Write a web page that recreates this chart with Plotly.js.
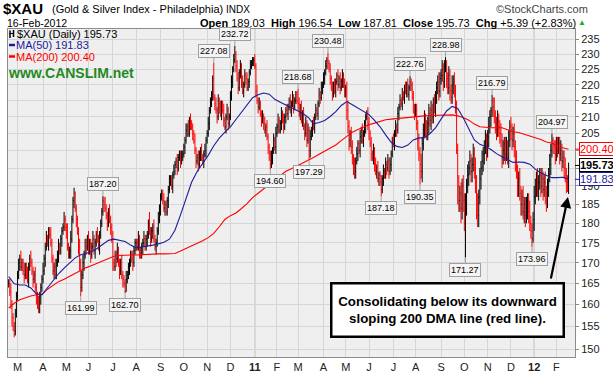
<!DOCTYPE html>
<html><head><meta charset="utf-8">
<script src="https://cdn.plot.ly/plotly-3.0.1.min.js"></script>
<style>html,body{margin:0;padding:0;background:#fff}#chart{width:613px;height:374px}</style>
</head><body><div id="chart"></div>
<script>
// ---- calendar ----
const startDate = '2010-02-17';
const holidays = ['2010-04-02','2010-05-31','2010-07-05','2010-09-06','2010-11-25','2010-12-24',
  '2011-01-17','2011-02-21','2011-04-22','2011-05-30','2011-07-04','2011-09-05','2011-11-24','2011-12-26',
  '2012-01-02','2012-01-16'];
const monthLetters = ['J','F','M','A','M','J','J','A','S','O','N','D'];

// ---- daily closes ----
const closes = [
165,163,160,157,155,154,158,162,167,170,
171,169,170,168,167,169,167,166,169,171,170,168,166,167,164,162,160,159,162,164,166,168,
171,174,176,175,178,177,175,171,168,169,167,170,172,174,173,176,178,179,181,179,
178,174,172,173,176,181,186,188,184,181,178,174,170,164,167,170,172,175,174,176,
173,175,172,174,176,173,175,177,176,174,177,180,183,186,185,184,182,180,183,181,179,176,
170,169,172,171,173,170,168,170,167,166,165,163,166,167,169,170,172,171,170,173,175,
175,174,176,173,172,174,175,176,174,176,177,180,178,176,178,179,176,174,175,178,181,184,
187,188,186,184,185,183,186,189,191,192,190,193,194,196,197,195,198,199,197,198,199,
201,203,206,207,205,209,208,207,205,203,200,197,198,196,199,200,198,197,199,200,203,
205,208,212,214,217,222,216,214,212,210,215,213,211,214,212,209,207,210,212,208,210,
216,221,225,228,230,226,222,219,224,226,221,218,220,223,222,219,221,224,226,227,228,228,
226,218,215,213,214,211,209,210,208,206,207,204,201,199,196,198,200,203,201,205,
207,209,206,208,211,209,207,210,212,211,213,215,212,214,216,213,215,217,215,
214,211,213,209,211,207,205,208,203,206,200,204,206,208,207,210,212,211,214,217,216,219,220,
222,224,226,228,227,225,222,219,217,220,218,221,223,220,222,219,221,223,220,218,
219,212,207,203,205,201,198,196,194,197,199,202,200,204,206,203,205,207,210,211,208,
205,202,199,198,200,196,194,195,192,193,191,189,192,194,193,196,195,197,194,196,199,203,
202,205,207,206,211,213,215,214,217,216,219,218,220,217,219,221,220,216,213,211,
212,208,203,199,196,194,202,206,209,207,205,208,211,209,212,210,214,213,216,219,221,218,222,
223,225,221,226,227,222,219,223,218,216,220,221,218,214,200,190,186,188,184,190,186,
180,185,190,193,195,197,194,196,199,195,191,185,182,187,192,195,197,199,201,203,200,
204,207,210,212,215,213,210,208,206,209,207,205,203,198,200,202,199,201,198,203,207,
206,203,205,201,197,194,190,192,188,185,187,183,185,182,184,186,183,180,178,176,181,
187,190,192,189,191,193,190,192,189,191,188,186,190,193,196,200,203,202,201,199,
203,201,202,199,200,197,198,195,193,191,190.34,195.73
];
// wick above max(open,close) and below min(open,close), in index points
const hiExt = [
1,1,2,1,1,1,1,1,1,1, 1,2,1,1,2,1,1,2,1,1, 2,1,1,1,2,1,1,2,1,1, 1,2,1,1,2,1,1,1,2,1,
1,1,2,1,1,2,1,1,1,1, 2,1,1,2,1,1,2,1,1,1.5, 0.5,1,1,1,2,1,1,2,1,1, 1,1,2,1,1,1,2,1,1,1,
2,1,1,1,1,1,1,2,1,1, 1,2,1,1,2,1,1,1,2,1, 1,1,2,1,1,1,2,1,1,1, 1,1,2,1,1,1,1,2,1,1,
1,1,2,1,1,1,1,3,1,1, 1,2,1,1,1,2,1,1,1,1, 2,1,1,1,1,2,1,1,1,2, 1,1,2,1,1,1,2,1,1,1,
2,1,2,1,2,1,1,1,2,1, 1,2,1,1,2,1,1,2,1,1, 2,1,2,1,1,0,1,2,1,2, 1,2,1,1,2,1,1,2,1,1,
2,2,1,2,0,1,2,2,1,2, 1,2,1,2,1,2,1,1,2,1, 1,1,2,1,2,1,2,1,1,2, 1,2,1,2,1,1,1,2,1,2,
1,2,1,2,1,1,2,1,2,1, 1,2,1,1,2,1,2,1,1,1, 1,0,2,1,2,1,2,1,2,1, 2,1,2,1,1,2,1,2,1,1,
2,1,2,1,2,1,2,1,0,1, 2,1,2,1,2,1,1,2,1,2, 1,2,1,2,1,2,3,2,1,2, 2,1,2,1,2,1,1,2,1,2,
1,2,1,1,2,2,1,2,1,2, 1,2,1,2,1,1,2,1,2,1, 2,1,2,1,2,1,1,2,1,2, 1,2,1,2,1,2,1,1,2,1,
2,1,0,1,1,2,1,2,2,1, 2,2,3,2,2,3,2,2,2,3, 2,3,2,2,3,2,2,2,3,2, 2,3,2,2,0,1,2,3,2,2,
3,2,3,2,1,2,3,2,3,2, 3,2,3,2,3,2,3,2,2,3, 2,3,2,3,2,3,2,3,2,2, 3,2,2,3,2,1,0,1,3,2,
2,3,2,2,3,2,3,2,2,3, 2,3,2,3,2,2,3,2,3,2, 2,3,2,2,3,2,2,3,2,2, 3,2,2,2,3,2,2,3,2,2,
2,3,2,2,3,2,2,2,3,2, 0,1,1,2,1,1,2,2,3,2, 2,2,3,2,2,0
];
const loExt = [
1,1,1,2,1,1.4,1,1,1,1, 2,1,1,1,2,1,1,1,2,1, 1,1,2,1,1,2,1,1,1,2, 1,1,1,2,1,1,2,1,1,1,
1,2,1,1,1,2,1,1,2,1, 1,1,2,1,1,1,2,1,1,2, 1,2,1,2,2,0,1,1,2,1, 2,1,1,1,2,1,1,1,2,1,
1,1,2,1,1,1,2,1,1,2, 1,1,2,1,2,1,1,2,1,1, 2,1,1,2,1,0,0,1,1,2, 1,1,2,1,1,2,1,1,2,1,
1,2,1,1,1,2,1,1,2,1, 2,1,1,2,1,1,1,2,1,1, 1,2,1,1,2,1,1,1,2,1, 1,1,2,1,1,2,1,1,1,2,
1,2,1,1,2,1,2,1,1,2, 1,2,1,2,1,1,2,1,2,1, 1,2,1,1,2,1,2,1,2,1, 2,1,2,1,2,1,2,1,2,1,
1,1,2,1,1,2,1,2,1,2, 2,1,2,1,2,1,1,2,1,1, 1,2,1,2,1,2,1,1,2,1, 2,1,2,1,2,2,0,1,2,1,
1,2,1,2,1,1,2,1,2,1, 2,1,2,1,1,2,1,2,1,1, 1,2,1,2,1,2,1,2,1,2, 1,0,2,1,2,1,2,1,1,2,
1,2,1,2,1,2,1,1,2,1, 2,1,2,1,1,2,1,2,1,2, 1,2,1,2,2,3,2,3,2,2, 2,3,2,2,1,2,1,2,2,1,
2,1,2,1,2,2,1,2,1,2, 2,1,2,1,2,1,0,1,2,1, 1,2,1,2,1,2,1,1,2,1, 2,1,2,1,1,2,1,2,1,2,
1,2,1,2,1,2,2,1,2,3, 2,0,2,3,2,2,3,2,2,3, 2,3,2,2,2,3,2,2,3,2, 2,2,3,2,2,3,2,2,3,2,
2,3,2,3,1,5,3,3,4,3, 3,2,0,3,2,3,2,3,3,2, 3,3,4,3,3,2,3,2,3,3, 2,3,2,3,2,3,2,3,2,3,
3,2,3,3,2,3,2,3,3,2, 2,3,2,3,3,2,3,3,2,3, 3,2,3,3,2,3,3,2,3,3, 2,2,0,1,3,2,3,2,3,2,
3,2,3,2,3,3,2,3,2,3, 2,3,2,3,2,3,2,3,2,3, 2,3,2,3,2,0
];
const lastBar = {open:189.03, high:196.54, low:187.81, close:195.73, chg:5.39, pct:2.83};

// ---- moving averages, read every 5 trading days ----
const maStep = 5;
const ma50 = [
166.6,164.9,164.6,164.6,163.9,162.5,162.3,163.9,165.8,167.3,
168.7,170.0,171.2,172.0,172.4,172.7,173.6,174.5,175.6,175.9,
175.6,175.3,174.4,173.7,173.9,174.1,174.4,174.7,175.1,175.9,
178.2,182.2,186.3,191.0,194.0,196.3,198.6,201.4,203.6,205.4,
207.0,209.2,211.4,213.6,215.9,216.8,217.4,217.0,215.4,214.5,
213.7,212.8,211.9,211.1,209.9,207.9,208.3,208.9,210.1,211.6,
213.5,214.7,213.7,212.7,211.8,210.7,208.9,207.0,204.6,202.4,
201.2,200.9,201.6,203.1,203.7,203.7,205.0,206.7,209.3,211.8,
213.2,212.6,209.7,206.5,203.1,201.8,201.2,200.3,199.1,198.2,
197.4,196.6,196.7,196.6,196.1,194.7,193.6,193.0,192.3,192.3,
192.4,191.83];
const ma200 = [
159.2,160.3,161.1,161.6,162.0,162.3,162.3,163.6,164.6,165.4,
166.0,166.7,167.3,168.1,168.8,169.3,169.9,170.5,171.1,171.6,
171.8,171.9,171.9,171.9,172.0,172.1,172.2,172.2,172.2,172.2,
172.3,172.9,173.5,174.1,174.8,175.5,176.3,177.4,179.1,181.0,
182.0,182.7,183.9,185.2,186.8,188.0,189.4,190.6,191.8,193.0,
194.1,194.8,195.6,196.3,197.0,198.0,198.9,199.8,200.7,201.6,
202.9,204.2,205.4,206.2,207.0,207.6,208.1,208.6,209.1,209.3,
209.5,209.7,209.9,210.0,210.2,210.3,210.4,210.5,210.6,210.6,
210.6,210.3,209.8,209.0,207.8,207.0,206.8,206.7,206.7,206.7,
206.1,205.5,205.3,204.8,204.3,203.8,203.2,202.5,202.2,201.2,
200.8,200.40];

// ---- labelled extremes ----
const peakDates = ['2010-06-18','2010-11-09','2010-12-07','2011-03-01','2011-04-07','2011-07-25','2011-09-08','2011-11-07','2012-01-26'];
const peakVals = [187.20,227.08,232.72,218.68,230.48,222.76,228.98,216.79,204.97];
const troughDates = ['2010-05-20','2010-07-19','2011-01-24','2011-03-15','2011-06-16','2011-08-05','2011-10-04','2011-12-29'];
const troughVals = [161.99,162.70,194.60,197.29,187.18,190.35,171.27,173.96];
const yTicks = [150,155,160,165,170,175,180,185,190,195,200,205,210,215,220,225,230,235];
const yTicksCovered = [195,200]; // hidden under the value tags in the reference

// ---- build ----
const N = closes.length;
if (hiExt.length!==N || loExt.length!==N) throw new Error('len mismatch '+N+' '+hiExt.length+' '+loExt.length);
const hol = new Set(holidays);
const dates = [];
let d = new Date(startDate+'T00:00:00Z');
while (dates.length < N) {
  const s = d.toISOString().slice(0,10), w = d.getUTCDay();
  if (w!==0 && w!==6 && !hol.has(s)) dates.push(s);
  d.setUTCDate(d.getUTCDate()+1);
}
const idx = [...Array(N).keys()];
const open = idx.map(i => i ? closes[i-1] : closes[0]);
const high = idx.map(i => Math.max(open[i], closes[i]) + hiExt[i]);
const low = idx.map(i => Math.min(open[i], closes[i]) - loExt[i]);
open[N-1] = lastBar.open; high[N-1] = lastBar.high; low[N-1] = lastBar.low;
peakDates.forEach((s,k)=>{ const i=dates.indexOf(s); if(i>=0) high[i]=peakVals[k]; });
troughDates.forEach((s,k)=>{ const i=dates.indexOf(s); if(i>=0) low[i]=troughVals[k]; });

const tickvals=[], ticktext=[], yearIdx=[];
for (let i=1;i<N;i++){
  if (dates[i].slice(5,7)!==dates[i-1].slice(5,7)){
    const m = +dates[i].slice(5,7);
    tickvals.push(i);
    if (m===1){ ticktext.push('<b>'+dates[i].slice(2,4)+'</b>'); yearIdx.push(i); }
    else ticktext.push(monthLetters[m-1]);
  }
}
const maX = ma50.map((_,k)=>k*maStep);

const FONT = 'Liberation Sans, Arial, sans-serif';
const BLUE = '#1c1c9c', RED = '#ff0000';
const px = x => (x-8)/567, py = y => (357-y)/328;
const L10 = Math.log10;

const traces = [
  {type:'ohlc', x:idx, open:open, high:high, low:low, close:closes, tickwidth:0.5,
   increasing:{line:{color:'#000000', width:1}}, decreasing:{line:{color:RED, width:1}},
   hoverinfo:'skip', showlegend:false},
  {type:'scatter', mode:'lines', x:maX, y:ma200, line:{color:RED, width:1.1}, hoverinfo:'skip', showlegend:false},
  {type:'scatter', mode:'lines', x:maX, y:ma50, line:{color:BLUE, width:1.1}, hoverinfo:'skip', showlegend:false}
];

const ann = [];
const A = (o)=>ann.push(Object.assign({showarrow:false, yanchor:'middle', xref:'paper', yref:'paper', borderpad:0, font:{family:FONT, size:11, color:'#000'}}, o));
// header
A({x:px(2),y:py(8),xanchor:'left',text:'<b>$XAU</b>',font:{family:FONT,size:15,color:'#000'}});
A({x:px(51),y:py(9),xanchor:'left',text:'(Gold &amp; Silver Index - Philadelphia)',font:{family:FONT,size:11,color:'#000'}});
A({x:px(225),y:py(9.5),xanchor:'left',text:'INDX',font:{family:FONT,size:10,color:'#000'}});
A({x:px(589),y:py(9),xanchor:'right',text:'©StockCharts.com',font:{family:FONT,size:11,color:'#444'}});
A({x:px(6),y:py(22.5),xanchor:'left',text:'16-Feb-2012',font:{family:FONT,size:10.5,color:'#000'}});
A({x:px(577),y:py(22.5),xanchor:'right',
   text:'<b>Open</b> '+lastBar.open.toFixed(2)+'  <b>High</b> '+lastBar.high.toFixed(2)+'  <b>Low</b> '+lastBar.low.toFixed(2)+
        '  <b>Close</b> '+lastBar.close.toFixed(2)+'  <b>Chg</b> +'+lastBar.chg.toFixed(2)+' (+'+lastBar.pct.toFixed(2)+'%)',
   font:{family:FONT,size:11,color:'#000'}});
A({x:px(582),y:py(23),xanchor:'center',text:'▲',font:{family:FONT,size:8,color:'#22aa22'}});
// legend
A({x:px(16),y:py(34),xanchor:'left',text:'$XAU (Daily) '+lastBar.close.toFixed(2),font:{family:FONT,size:11,color:'#000'}});
A({x:px(15),y:py(45),xanchor:'left',text:'MA(50) '+ma50[ma50.length-1].toFixed(2),font:{family:FONT,size:11,color:BLUE}});
A({x:px(15),y:py(56.5),xanchor:'left',text:'MA(200) '+ma200[ma200.length-1].toFixed(2),font:{family:FONT,size:11,color:RED}});
A({x:px(7),y:py(73.5),xanchor:'left',text:'<b>www.CANSLIM.net</b>',font:{family:FONT,size:14,color:'#1f8a1f'}});
// extreme labels
peakDates.forEach((s,k)=>ann.push({x:dates.indexOf(s), y:L10(peakVals[k]), xref:'x', yref:'y', text:peakVals[k].toFixed(2),
  showarrow:true, arrowhead:0, arrowwidth:1, arrowcolor:'#a0a0a0', ax:0, ay:-12, standoff:0,
  bgcolor:'#f4f4f4', bordercolor:'#a0a0a0', borderwidth:1, borderpad:1, font:{family:FONT,size:9,color:'#000'}}));
troughDates.forEach((s,k)=>ann.push({x:dates.indexOf(s), y:L10(troughVals[k]), xref:'x', yref:'y', text:troughVals[k].toFixed(2),
  showarrow:true, arrowhead:0, arrowwidth:1, arrowcolor:'#a0a0a0', ax:0, ay:12, standoff:0,
  bgcolor:'#f4f4f4', bordercolor:'#a0a0a0', borderwidth:1, borderpad:1, font:{family:FONT,size:9,color:'#000'}}));
// right value tags
[[ma200[ma200.length-1], RED, false],[lastBar.close,'#000',true],[ma50[ma50.length-1], BLUE, false]].forEach(([v,c,b])=>{
  ann.push({xref:'paper', yref:'y', x:1, y:L10(v), text:b?'<b>'+v.toFixed(2)+'</b>':v.toFixed(2),
    showarrow:true, arrowhead:0, arrowwidth:1, arrowcolor:c, ax:4, ay:0, standoff:0, xanchor:'left',
    bgcolor:'#ffffff', bordercolor:c, borderwidth:1, borderpad:0, font:{family:FONT,size:11,color:c}});
});
// callout
ann.push({xref:'paper', yref:'paper', x:px(447.5), y:py(309.5), xanchor:'center', yanchor:'middle', showarrow:false,
  text:'<b>Consolidating below its downward<br>sloping 200 DMA line (red line).</b>', align:'center',
  width:226, height:47, bgcolor:'#ffffff', bordercolor:'#000', borderwidth:2.5, borderpad:2,
  font:{family:FONT, size:13.3, color:'#000'}});
ann.push({x:N-1, y:L10(lastBar.low), xref:'x', yref:'y', text:'', showarrow:true, arrowhead:2, arrowsize:1, arrowwidth:2.2,
  arrowcolor:'#000', ax:-18, ay:86, standoff:3});

const shapes = yearIdx.map(i=>({type:'line', xref:'x', yref:'paper', x0:i, x1:i, y0:0, y1:1, line:{color:'#a8a8a8', width:1}, layer:'below'}));
// legend glyphs
shapes.push({type:'line',xref:'paper',yref:'paper',x0:px(10),x1:px(10),y0:py(30.5),y1:py(38),line:{color:'#000',width:1.5}});
shapes.push({type:'line',xref:'paper',yref:'paper',x0:px(13.5),x1:px(13.5),y0:py(30),y1:py(37),line:{color:'#000',width:1.5}});
shapes.push({type:'line',xref:'paper',yref:'paper',x0:px(9.5),x1:px(14),y0:py(33.5),y1:py(33.5),line:{color:'#000',width:1}});
shapes.push({type:'line',xref:'paper',yref:'paper',x0:px(9),x1:px(15),y0:py(45),y1:py(45),line:{color:BLUE,width:2.5}});
shapes.push({type:'line',xref:'paper',yref:'paper',x0:px(9),x1:px(15),y0:py(56.5),y1:py(56.5),line:{color:RED,width:2.5}});

const layout = {
  width:613, height:374, margin:{l:8, r:38, t:29, b:17},
  paper_bgcolor:'#ffffff', plot_bgcolor:'#efefef', showlegend:false,
  font:{family:FONT, size:11, color:'#222'},
  xaxis:{range:[-0.6,510.8], tickmode:'array', tickvals:tickvals, ticktext:ticktext, showgrid:true, gridcolor:'#d6d6d6', gridwidth:1,
    zeroline:false, showline:true, linecolor:'#8c8c8c', mirror:true, ticks:'', tickfont:{family:FONT,size:11,color:'#222'},
    rangeslider:{visible:false}, fixedrange:true, automargin:false},
  yaxis:{type:'log', side:'right', range:[L10(148.3), L10(238.5)], tickmode:'array', tickvals:yTicks,
    ticktext:yTicks.map(v=>yTicksCovered.includes(v)?'':String(v)),
    showgrid:true, gridcolor:'#d6d6d6', gridwidth:1, zeroline:false, showline:true, linecolor:'#8c8c8c', mirror:true,
    ticks:'outside', ticklen:3, tickcolor:'#8c8c8c', tickfont:{family:FONT,size:11,color:'#222'}, fixedrange:true, automargin:false},
  annotations:ann, shapes:shapes
};
Plotly.newPlot('chart', traces, layout, {staticPlot:true, displayModeBar:false});
</script>
</body></html>
